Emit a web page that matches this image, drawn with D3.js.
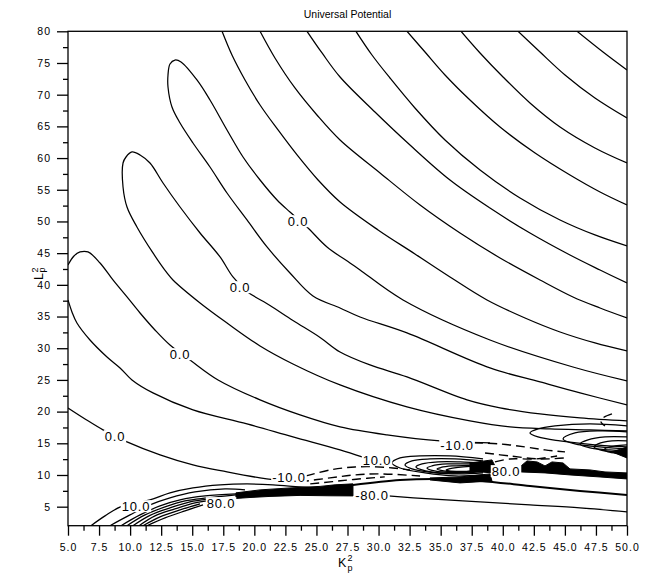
<!DOCTYPE html>
<html><head><meta charset="utf-8">
<script src="https://cdn.jsdelivr.net/npm/d3@7"></script>
<style>
body{margin:0;background:#fff}
svg text{font-family:"Liberation Sans",Arial,Helvetica,sans-serif;fill:#000}
</style></head>
<body><svg id="chart" width="661" height="574"></svg>
<script>
// ---------- data ----------
const chartTitle = "Universal Potential";
const xDomain = [5, 50];
const yDomain = [2, 80];
const xTicks = [5,7.5,10,12.5,15,17.5,20,22.5,25,27.5,30,32.5,35,37.5,40,42.5,45,47.5,50];
const xMinorTicks = [6.25,8.75,11.25,13.75,16.25,18.75,21.25,23.75,26.25,28.75,31.25,33.75,36.25,38.75,41.25,43.75,46.25,48.75];
const yTicks = [5,10,15,20,25,30,35,40,45,50,55,60,65,70,75,80];
const yMinorTicks = [7.5,12.5,17.5,22.5,27.5,32.5,37.5,42.5,47.5,52.5,57.5,62.5,67.5,72.5,77.5];

// contour lines: [K_p^2, L_p^2] points
const arcT8 = [[45.98,80],[48.07,76.73],[50,73.89]];
const arcT7 = [[41.23,80],[43.00,76.73],[45.01,73.11],[47.42,69.48],[50,66.32]];
const arcT6 = [[36.64,80],[38.17,76.58],[40.02,72.79],[42.19,68.69],[44.61,64.90],[47.42,61.59],[50,59.22]];
const arcT5 = [[32.29,80],[33.74,76.73],[35.35,73.11],[37.36,69.16],[39.78,64.90],[42.60,60.80],[45.41,57.33],[47.83,54.65],[50,52.60]];
const arcT4 = [[28.18,80],[29.47,76.26],[30.92,72.63],[32.93,67.90],[35.35,62.85],[38.17,58.12],[41.39,53.70],[44.61,50.23],[47.42,47.87],[50,46.13]];
const arcT3 = [[24.24,80],[25.45,76.58],[26.90,72.79],[29.71,67.27],[32.53,62.06],[35.75,56.54],[38.97,52.12],[42.19,48.18],[45.41,44.71],[47.83,42.34],[50,40.29]];
const arcT2 = [[20.46,80],[21.66,75.79],[23.27,71.06],[25.04,66.80],[26.90,62.85],[30.12,57.65],[33.34,52.60],[36.56,48.18],[39.78,44.24],[43.00,40.77],[45.65,38.09],[47.83,36.35],[50,34.77]];
const arcT1 = [[17.40,80],[18.20,76.26],[19.25,72.32],[20.46,68.37],[21.91,64.43],[23.44,60.49],[25.13,56.54],[26.90,53.07],[29.96,48.66],[32.93,44.87],[35.75,41.24],[38.73,37.61],[41.79,34.77],[44.61,32.56],[47.42,30.83],[50,29.57]];
const hairpin3 = [[50,21.05],[46.22,22.95],[43.00,24.69],[38.97,26.89],[32.29,32.41],[28.51,34.93],[26.90,36.35],[24.72,38.24],[22.87,41.87],[21.02,45.98],[19.41,50.23],[17.80,54.49],[16.43,58.59],[15.06,62.38],[14.02,65.53],[13.37,68.06],[13.05,71.21],[13.05,73.11],[13.21,74.84],[13.61,75.47],[14.10,75.16],[15.38,72.32],[16.43,69.16],[17.80,64.43],[19.09,60.17],[20.46,56.54],[21.83,53.39],[22.87,51.49],[24.24,49.13],[25.85,45.98],[27.70,43.45],[28.51,42.34],[31.97,37.61],[38.97,31.30],[45.65,27.04],[50,24.84]];
const hairpin2 = [[50,16.95],[47.02,17.11],[43.80,17.27],[40.58,17.58],[37.36,18.53],[32.29,20.74],[26.90,24.21],[23.11,27.52],[20.46,30.36],[17.80,33.98],[15.63,37.14],[13.45,40.77],[12.97,41.87],[11.84,45.03],[10.55,49.13],[9.75,52.28],[9.43,55.44],[9.43,59.22],[9.67,60.17],[10.15,60.96],[10.80,60.49],[11.60,59.22],[12.65,56.07],[14.02,52.28],[15.63,48.18],[17.24,44.40],[18.28,41.24],[19.41,38.96],[21.26,36.75],[23.11,34.38],[25.29,31.70],[26.90,29.41],[29.31,27.36],[32.29,25.47],[37.12,21.85],[39.78,20.59],[43.00,19.64],[46.22,19.01],[50,18.53]];
const hairpin1Upper = [[5,43.13],[5.48,44.55],[5.97,45.19],[6.61,45.19],[7.58,43.45],[8.62,40.77],[9.75,38.09],[10.80,35.56],[12.00,32.88],[13.21,30.51],[14.82,28.15],[17.08,25.00],[20.46,21.85],[23.68,19.48],[26.90,17.59],[30.68,16.33],[34.95,15.37],[38.97,15.06]];
const hairpin1Lower = [[5,37.61],[5.32,35.72],[5.72,33.98],[6.77,31.30],[8.14,28.62],[9.19,26.89],[10.15,25.00],[11.84,22.95],[15.06,20.27],[19.41,18.06],[23.11,16.01],[26.90,13.96],[28.67,12.85]];
const zeroLine = [[5,20.57],[6.37,18.84],[7.82,17.12],[9.75,15.22],[12.41,13.17],[15.06,11.59],[17.80,10.49],[20.46,9.54],[21.66,9.23]];
const ridge10a = [[6.85,2],[7.98,3.55],[9.27,5.0],[11.60,6.07],[13.21,7.18],[15.06,7.96],[17.24,8.44],[19.41,8.59],[21.50,8.44],[23.68,8.12],[26.09,7.81]];
const ridge10b = [[8.38,2],[9.99,3.70],[11.60,5.28],[13.21,6.39],[15.22,7.33],[17.64,7.81],[19.25,7.65]];
const ridge10c = [[9.27,2],[10.80,3.70],[12.41,5.13],[14.02,6.07],[16.03,6.70],[18.52,7.02]];
const ridge10d = [[9.75,2],[11.20,3.70],[12.81,4.97],[14.42,5.92],[16.19,6.39],[18.52,6.86]];
const ridge10e = [[10.23,2],[11.60,3.63],[13.21,4.81],[14.82,5.76],[16.19,6.15]];
const ridge10f = [[10.72,2],[12.00,3.55],[13.61,4.65],[15.22,5.60],[16.19,5.92]];
const ridge10g = [[11.04,2],[12.41,3.39],[14.02,4.49],[15.63,5.44]];
const ridge10h = [[11.36,2],[12.81,3.23],[14.42,4.34],[15.87,5.28]];
const loop1a = [[38.41,12.53],[35.75,13.00],[33.34,13.00],[31.73,12.69],[31.08,11.90],[31.73,11.11],[33.74,10.33],[36.15,9.85],[38.41,10.01]];
const loop1b = [[38.41,12.22],[36.15,12.53],[34.14,12.53],[32.69,12.22],[32.13,11.59],[32.69,10.96],[34.55,10.33],[36.56,10.17],[38.41,10.33]];
const loop1c = [[38.41,11.90],[36.56,12.06],[34.79,12.06],[33.50,11.74],[33.01,11.27],[33.50,10.80],[34.95,10.33],[36.72,10.33],[38.41,10.48]];
const loop1d = [[38.41,11.74],[36.96,11.74],[35.51,11.74],[34.30,11.43],[33.90,11.11],[34.30,10.72],[35.59,10.40],[37.04,10.40],[38.41,10.64]];
const loop1e = [[38.41,11.59],[37.20,11.51],[35.91,11.43],[35.03,11.19],[34.71,10.96],[35.03,10.72],[36.15,10.48],[37.36,10.56],[38.41,10.80]];
const loop1f = [[38.41,11.43],[37.36,11.35],[36.40,11.19],[35.67,10.96],[35.43,10.80],[35.67,10.64],[36.56,10.56],[37.52,10.64],[38.41,10.96]];
const loop2a = [[50,17.75],[47.02,18.06],[44.21,17.75],[42.84,17.27],[42.19,16.64],[42.84,16.01],[44.61,15.38],[47.42,14.75],[50,14.43]];
const loop2b = [[50,16.80],[47.83,16.96],[45.81,16.64],[44.85,15.69],[45.81,14.90],[47.83,14.43],[50,14.12]];
const loop2c = [[50,16.01],[48.23,16.01],[46.86,15.54],[46.22,14.90],[47.02,14.27],[48.63,13.96],[50,13.80]];
const loop2d = [[50,15.38],[48.79,15.38],[47.67,14.90],[47.34,14.43],[47.83,13.96],[49.03,13.64],[50,13.48]];
const loop2e = [[50,14.75],[49.03,14.59],[48.31,14.27],[48.15,13.96],[48.47,13.64],[49.28,13.40],[50,13.32]];
const lowLineA = [[27.94,8.43],[31.73,9.22],[34.95,9.38],[38.17,9.06],[42.19,8.28],[46.22,7.49],[50,6.86]];
const lowLineB = [[30.76,6.70],[34.14,6.23],[38.17,5.76],[42.19,5.28],[46.22,4.81],[50,4.18]];
const solidContours = [arcT8,arcT7,arcT6,arcT5,arcT4,arcT3,arcT2,arcT1,hairpin3,hairpin2,hairpin1Upper,hairpin1Lower,zeroLine,
  ridge10a,ridge10b,ridge10c,ridge10d,ridge10e,ridge10f,ridge10g,ridge10h,
  loop1a,loop1b,loop1c,loop1d,loop1e,loop1f,loop2a,loop2b,loop2c,loop2d,loop2e,lowLineB];
const thickContours = [lowLineA];

// negative contours (dashed)
const dashA = [[24.16,9.85],[26.09,10.80],[28.10,11.27],[30.12,11.27],[32.53,10.80]];
const dashB = [[23.68,8.91],[26.09,9.54],[28.10,10.01],[30.12,10.17],[33.34,9.85]];
const dashC = [[37.68,15.06],[39.78,14.90],[41.79,14.43],[43.40,13.96],[45.01,13.64]];
const dashD = [[38.57,13.48],[40.58,13.00],[43.00,12.53],[45.01,12.69]];
const dashE = [[48.79,19.64],[48.07,19.01],[47.91,18.38],[48.23,17.75]];
const dashF = [[39.37,12.06],[40.58,12.53],[42.60,12.53],[44.37,13.00]];
const dashG = [[24.50,8.60],[26.30,8.95],[28.00,9.30],[30.50,9.70]];
const dashedContours = [dashA,dashB,dashC,dashD,dashE,dashF,dashG];

// regions where contours merge into solid black
const bandA = [[18.52,7.18],[20.46,7.65],[22.87,7.96],[25.29,8.20],[26.50,8.45],[27.94,8.60],[27.94,6.70],[26.09,6.72],[23.68,6.78],[21.26,6.62],[19.65,6.45],[18.52,6.30]];
const blobB = [[37.36,11.90],[39.13,12.38],[39.37,11.43],[39.13,10.33],[37.36,10.64]];
const wedgeB = [[34.14,9.54],[36.56,9.69],[38.97,10.17],[39.13,9.06],[36.56,8.75],[34.14,9.22]];
const bandC = [[41.47,11.43],[41.95,12.22],[42.76,12.06],[43.40,11.43],[43.96,12.06],[44.85,11.90],[45.41,10.96],[47.02,10.80],[48.23,10.48],[50,10.33],[50,9.38],[47.83,9.69],[45.41,10.01],[43.40,10.33],[41.47,10.48]];
const wedgeD = [[50,14.43],[48.79,13.64],[50,12.69]];
const filledAreas = [bandA, blobB, wedgeB, bandC, wedgeD];

const labelTexts = ["0.0","0.0","0.0","0.0","10.0","80.0","-10.0","10.0","-80.0","-10.0","80.0"];
const labelK = [23.52,18.85,14.02,8.78,10.47,17.32,22.79,29.88,29.47,36.32,40.26];
const labelL = [50.07,39.66,29.09,16.16,5.11,5.59,9.69,12.37,6.86,14.74,10.64];

// ---------- drawing ----------
const svg = d3.select("#chart");
const pLeft = 68, pRight = 627, pTop = 31.3, pBottom = 525.7;
const x = d3.scaleLinear().domain(xDomain).range([pLeft, pRight]);
const y = d3.scaleLinear().domain(yDomain).range([pBottom, pTop]);

svg.append("defs").append("clipPath").attr("id","plotclip")
  .append("rect").attr("x",pLeft).attr("y",pTop).attr("width",pRight-pLeft).attr("height",pBottom-pTop);

const plot = svg.append("g").attr("clip-path","url(#plotclip)");
const line = d3.line().x(d=>x(d[0])).y(d=>y(d[1])).curve(d3.curveCatmullRom.alpha(0.5));
const area = d3.line().x(d=>x(d[0])).y(d=>y(d[1])).curve(d3.curveLinearClosed);

plot.selectAll("path.fill").data(filledAreas).join("path").attr("class","fill")
  .attr("d",area).attr("fill","#000").attr("stroke","#000").attr("stroke-width",1);
plot.selectAll("path.solid").data(solidContours).join("path").attr("class","solid")
  .attr("d",line).attr("fill","none").attr("stroke","#000").attr("stroke-width",1.25);
plot.selectAll("path.thick").data(thickContours).join("path").attr("class","thick")
  .attr("d",line).attr("fill","none").attr("stroke","#000").attr("stroke-width",2);
plot.selectAll("path.dash").data(dashedContours).join("path").attr("class","dash")
  .attr("d",line).attr("fill","none").attr("stroke","#000").attr("stroke-width",1.4)
  .attr("stroke-dasharray","9,5");

// contour labels with a white gap behind them
const labs = plot.selectAll("g.clab").data(labelTexts).join("g").attr("class","clab");
labs.each(function(d,i){
  const g = d3.select(this);
  const t = g.append("text")
    .attr("x",x(labelK[i])).attr("y",y(labelL[i])).attr("dy","0.36em")
    .attr("text-anchor","middle").attr("font-size",13).attr("letter-spacing",0.8)
    .text(d);
  const bb = t.node().getBBox();
  g.insert("rect","text").attr("x",bb.x-1).attr("y",bb.y+1.5)
    .attr("width",bb.width+2).attr("height",bb.height-3).attr("fill","#fff");
});

// frame
svg.append("rect").attr("x",pLeft).attr("y",pTop).attr("width",pRight-pLeft).attr("height",pBottom-pTop)
  .attr("fill","none").attr("stroke","#000").attr("stroke-width",1.3);

// axes
const fmtX = d3.format(".1f");
const gx = svg.append("g").attr("transform",`translate(0,${pBottom})`);
gx.call(d3.axisBottom(x).tickValues(xMinorTicks).tickSize(5).tickFormat(""));
const gxMaj = svg.append("g").attr("transform",`translate(0,${pBottom})`);
gxMaj.call(d3.axisBottom(x).tickValues(xTicks).tickSize(10).tickPadding(8).tickFormat(fmtX));
const gy = svg.append("g").attr("transform",`translate(${pLeft},0)`);
gy.call(d3.axisLeft(y).tickValues(yMinorTicks).tickSize(5).tickFormat(""));
const gyMaj = svg.append("g").attr("transform",`translate(${pLeft},0)`);
gyMaj.call(d3.axisLeft(y).tickValues(yTicks).tickSize(11).tickPadding(6).tickFormat(d3.format("d")));
[gx,gxMaj,gy,gyMaj].forEach(g=>{
  g.select(".domain").remove();
  g.selectAll(".tick line").attr("stroke","#000").attr("stroke-width",1.3);
  g.selectAll(".tick text").attr("font-size",10.5).attr("letter-spacing",1).attr("fill","#000")
   .style("font-family",'"Liberation Sans",Arial,sans-serif');
});

// title
svg.append("text").attr("x",(pLeft+pRight)/2).attr("y",18).attr("text-anchor","middle")
  .attr("font-size",10.5).text(chartTitle);

// x label K_p^2
svg.append("text").attr("x",338).attr("y",567).attr("font-size",12.5).text("K");
svg.append("text").attr("x",347.5).attr("y",561).attr("font-size",9).text("2");
svg.append("text").attr("x",347.5).attr("y",571).attr("font-size",9).text("p");

// y label L_p^2
const yl = svg.append("g").attr("transform","translate(43,280) rotate(-90)");
yl.append("text").attr("x",0).attr("y",0).attr("font-size",12.5).text("L");
yl.append("text").attr("x",7.5).attr("y",-5.5).attr("font-size",9).text("2");
yl.append("text").attr("x",7.5).attr("y",1.5).attr("font-size",9).text("p");
</script>
</body></html>
